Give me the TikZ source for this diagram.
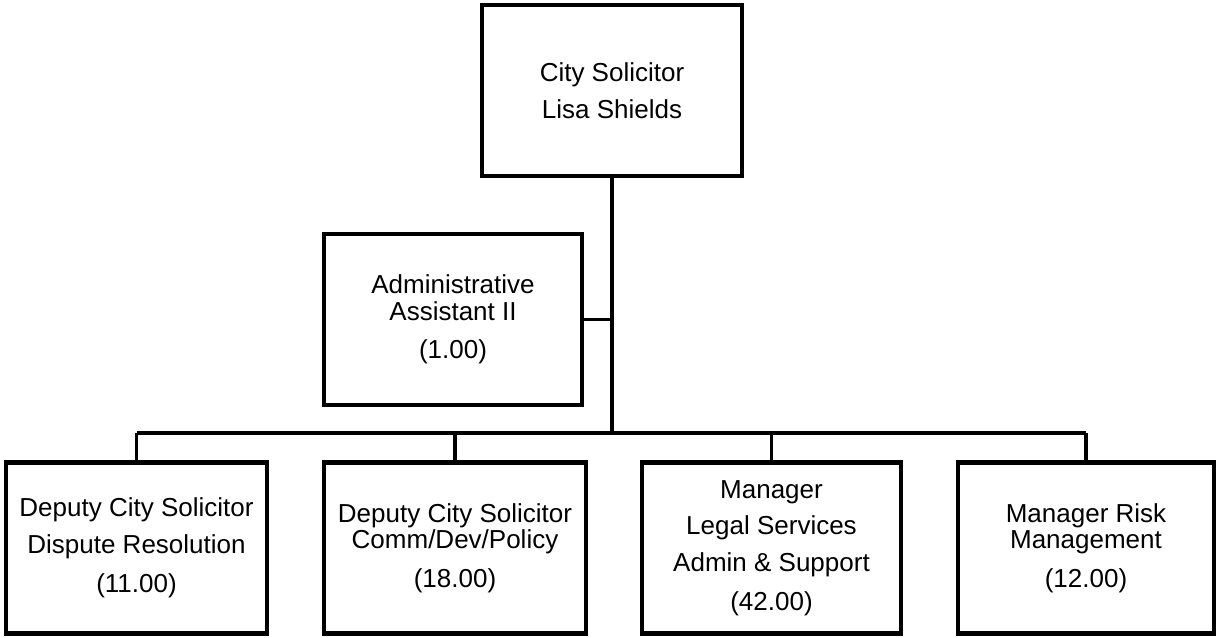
\documentclass[tikz,border=0pt]{standalone}
\usepackage{fontspec}
\setmainfont{Liberation Sans}

\begin{document}
\begin{tikzpicture}[x=0.02cm, y=-0.02cm,
    post/.style={draw, line width=2.4pt, align=center, inner sep=0pt,
        minimum height=3.42cm,
        font=\fontsize{14.8pt}{21pt}\selectfont},
    link/.style={line width=2.1pt}]

    \useasboundingbox (0, 0) rectangle (1219, 638);

    \node[post, minimum width=5.2cm] (solicitor) at (612, 90.5) {City Solicitor\\Lisa Shields};
    \node[post, minimum width=5.16cm] (assistant) at (453, 319.5) {Administrative\\[-6pt]Assistant II\\[1pt](1.00)};

    \node[post, minimum width=5.22cm] (dispute) at (136.5, 548) {Deputy City Solicitor\\Dispute Resolution\\[1pt](11.00)};
    \node[post, minimum width=5.24cm] (policy) at (455, 548) {Deputy City Solicitor\\[-6pt]Comm/Dev/Policy\\[1pt](18.00)};
    \node[post, minimum width=5.18cm] (legal) at (771.5, 548) {Manager\\Legal Services\\Admin \& Support\\[1pt](42.00)};
    \node[post, minimum width=5.12cm] (risk) at (1086, 548) {Manager Risk\\[-6pt]Management\\[1pt](12.00)};

    \coordinate (bus) at (612, 433);

    \draw[link] (solicitor.south) -- (bus);
    \draw[link] (assistant.east) -- (assistant.east -| bus);
    \draw[link] (dispute.north |- bus) -- (risk.north |- bus);
    \draw[link] (dispute.north) -- (dispute.north |- bus);
    \draw[link] (policy.north) -- (policy.north |- bus);
    \draw[link] (legal.north) -- (legal.north |- bus);
    \draw[link] (risk.north) -- (risk.north |- bus);

\end{tikzpicture}
\end{document}
